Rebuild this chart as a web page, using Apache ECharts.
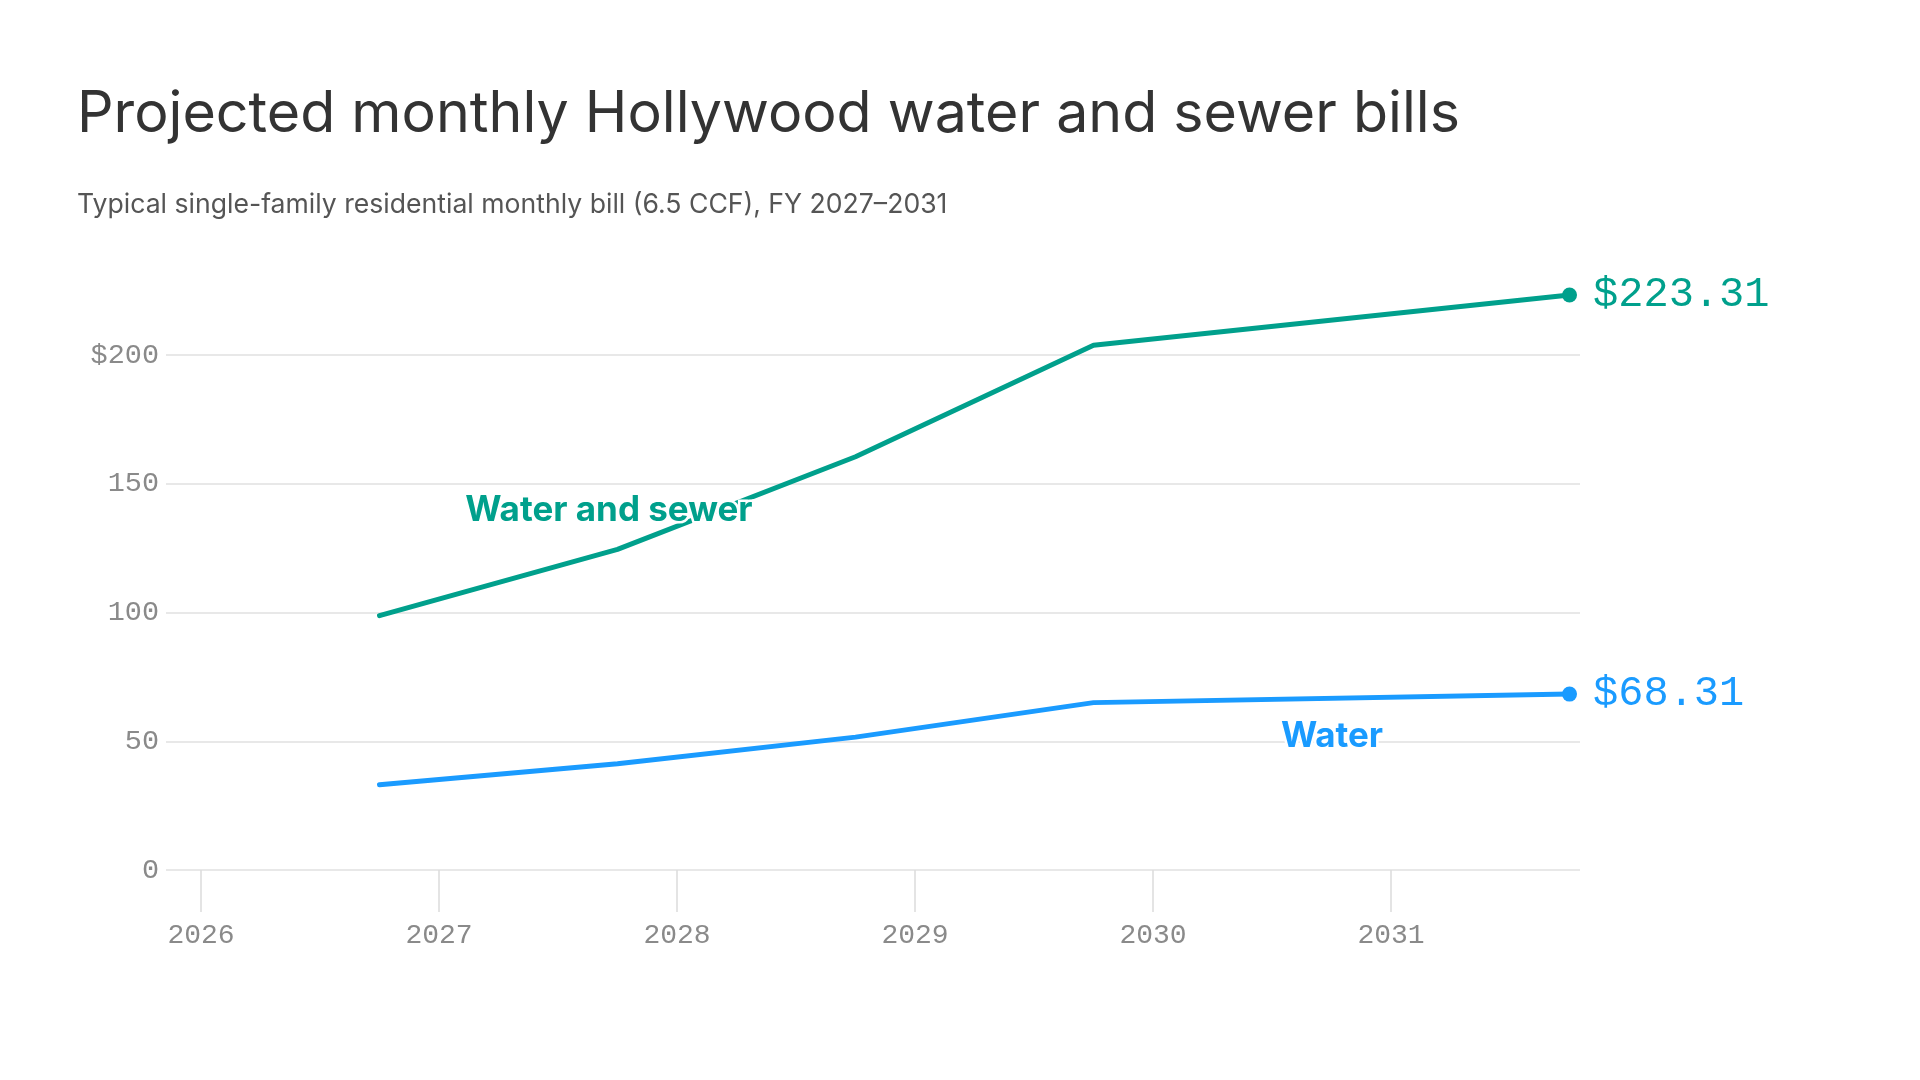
<!DOCTYPE html>
<html>
<head>
<meta charset="utf-8">
<script src="https://cdn.jsdelivr.net/npm/echarts@6/dist/echarts.min.js"></script>
<style>
  html, body { margin: 0; padding: 0; background: #fff; }
  #chart { width: 1920px; height: 1080px; }
</style>
</head>
<body>
<div id="chart"></div>
<script>
// fiscal year points (placed at the start of each FY)
var years = [2026.75, 2027.75, 2028.75, 2029.75, 2031.75];
var waterSewer = [98.8, 124.5, 160.5, 203.8, 223.31];
var water = [33.1, 41.3, 51.6, 65.0, 68.31];
var yearTicks = [2026, 2027, 2028, 2029, 2030, 2031];
var yTicks = [0, 50, 100, 150, 200];

var teal = "#00a08c";
var blue = "#1a9bff";
var mono = "'Liberation Mono', 'DejaVu Sans Mono', monospace";
var sans = "Inter, 'Noto Sans', sans-serif";

function pairs(vals) {
  return years.map(function (y, i) { return [y, vals[i]]; });
}

function lineSeries(name, vals, color, tag) {
  var last = vals.length - 1;
  return {
    name: name,
    type: "line",
    data: pairs(vals),
    clip: false,
    showSymbol: true,
    symbol: "circle",
    symbolSize: function (v, p) { return p.dataIndex === last ? 15 : 0; },
    lineStyle: { color: color, width: 5, cap: "round", join: "round" },
    itemStyle: { color: color },
    emphasis: { disabled: true },
    label: {
      show: true,
      position: "right",
      distance: 16,
      formatter: function (p) {
        return p.dataIndex === last ? "$" + p.value[1].toFixed(2) : "";
      },
      fontFamily: mono,
      fontSize: 42,
      color: color
    },
    markPoint: {
      symbol: "circle",
      symbolSize: 0,
      silent: true,
      data: [{ coord: tag.coord }],
      label: {
        show: true,
        position: "inside",
        formatter: name,
        fontFamily: sans,
        fontWeight: "bold",
        fontSize: 35,
        color: color,
        textBorderColor: "#fff",
        textBorderWidth: 5
      }
    }
  };
}

var myChart = echarts.init(document.getElementById("chart"));
var option = {
  animation: false,
  backgroundColor: "#fff",
  title: [
    {
      text: "Projected monthly Hollywood water and sewer bills",
      left: 72,
      top: 81,
      textStyle: { fontFamily: sans, fontSize: 57.3, fontWeight: "normal", color: "#333" }
    },
    {
      text: "Typical single-family residential monthly bill (6.5 CCF), FY 2027\u20132031",
      left: 72,
      top: 186,
      textStyle: { fontFamily: sans, fontSize: 26.6, fontWeight: "normal", color: "#555" }
    }
  ],
  grid: { left: 166, right: 340, top: 355, bottom: 210 },
  xAxis: {
    type: "value",
    min: 2025.853,
    max: 2031.794,
    axisLine: { show: false },
    splitLine: { show: false },
    axisTick: {
      show: true,
      customValues: yearTicks,
      length: 42,
      lineStyle: { color: "#dcdcdc", width: 1.5 }
    },
    axisLabel: {
      customValues: yearTicks,
      formatter: function (v) { return String(v); },
      margin: 52,
      fontFamily: mono,
      fontSize: 28,
      color: "#8a8a8a"
    }
  },
  yAxis: {
    type: "value",
    min: 0,
    max: 200,
    interval: 50,
    axisLine: { show: false },
    axisTick: { show: false },
    splitLine: { lineStyle: { color: "#e0e0e0", width: 1.5 } },
    axisLabel: {
      customValues: yTicks,
      formatter: function (v) { return v === 200 ? "$200" : String(v); },
      margin: 7,
      fontFamily: mono,
      fontSize: 28.5,
      color: "#8a8a8a"
    }
  },
  series: [
    lineSeries("Water and sewer", waterSewer, teal, { coord: [2027.714, 139.5] }),
    lineSeries("Water", water, blue, { coord: [2030.752, 51.8] })
  ]
};

option && myChart.setOption(option);
</script>
</body>
</html>
